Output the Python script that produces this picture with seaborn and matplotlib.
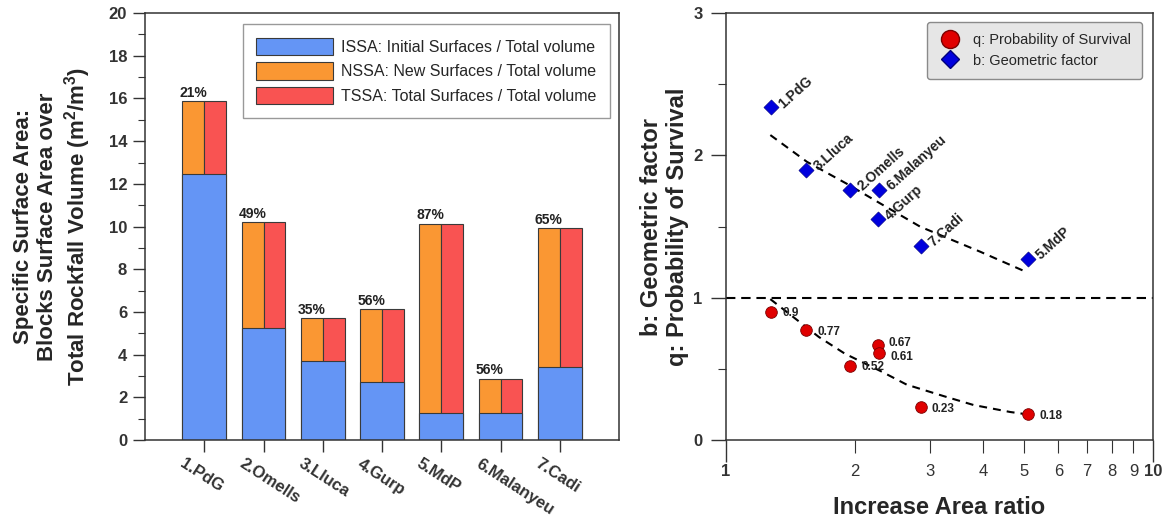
import numpy as np
import pandas as pd
import matplotlib
matplotlib.use("Agg")
import matplotlib.pyplot as plt
import seaborn as sns
from matplotlib.patches import Patch
from matplotlib.lines import Line2D
from matplotlib.transforms import ScaledTranslation

# --- data ------------------------------------------------------------------
sites = ['1.PdG', '2.Omells', '3.Lluca', '4.Gurp', '5.MdP', '6.Malanyeu', '7.Cadi']
issa = [12.47, 5.23, 3.70, 2.70, 1.28, 1.26, 3.44]        # initial surfaces / volume
tssa = [15.88, 10.20, 5.70, 6.14, 10.13, 2.88, 9.92]      # total surfaces / volume
new_pct = ['21%', '49%', '35%', '56%', '87%', '56%', '65%']

# right panel, same site order as above
area_ratio = [1.275, 1.955, 1.54, 2.265, 5.10, 2.286, 2.86]
b_factor = [2.34, 1.76, 1.90, 1.55, 1.275, 1.76, 1.365]
q_surv = [0.90, 0.52, 0.77, 0.67, 0.18, 0.61, 0.23]
q_text = ['0.9', '0.52', '0.77', '0.67', '0.18', '0.61', '0.23']

# dashed trend curves
b_trend_x = [1.27, 1.547, 1.92, 2.296, 2.85, 3.94, 5.03]
b_trend_y = [2.143, 1.955, 1.80, 1.663, 1.499, 1.323, 1.183]
q_trend_x = [1.27, 1.65, 1.90, 2.30, 2.65, 3.23, 3.80, 4.63, 5.0]
q_trend_y = [0.99, 0.724, 0.606, 0.485, 0.389, 0.309, 0.246, 0.197, 0.183]

c_blue, c_orange, c_red = '#6495F5', '#FA9733', '#F95352'
edge = '#3a3a3a'

sns.set_style('ticks')
plt.rcParams['font.family'] = ['Liberation Sans', 'DejaVu Sans']
plt.rcParams['mathtext.fontset'] = 'custom'
plt.rcParams['mathtext.rm'] = 'Liberation Sans'
plt.rcParams['mathtext.bf'] = 'Liberation Sans:bold'
plt.rcParams['axes.edgecolor'] = '#333333'
plt.rcParams['xtick.color'] = '#333333'
plt.rcParams['ytick.color'] = '#333333'

fig = plt.figure(figsize=(11.65, 5.2), dpi=100)
ax1 = fig.add_axes([0.1245, 0.1538, 0.4069, 0.821])
ax2 = fig.add_axes([0.6232, 0.1538, 0.3665, 0.821])

# --- left: stacked / paired bars -------------------------------------------
df_tot = pd.DataFrame({'site': sites * 2, 'value': tssa + tssa,
                       'series': ['left'] * 7 + ['right'] * 7})
df_issa = pd.DataFrame({'site': sites, 'value': issa, 'series': ['left'] * 7})
pal = {'left': c_orange, 'right': c_red}
sns.barplot(data=df_tot, x='site', y='value', hue='series', hue_order=['left', 'right'],
            palette=pal, width=0.74, gap=0, saturation=1, errorbar=None,
            edgecolor=edge, linewidth=0.8, legend=False, ax=ax1)
top_bars = ax1.containers[0]
sns.barplot(data=df_issa, x='site', y='value', hue='series', hue_order=['left', 'right'],
            palette={'left': c_blue, 'right': c_blue}, width=0.74, gap=0, saturation=1,
            errorbar=None, edgecolor=edge, linewidth=0.8, legend=False, ax=ax1)
ax1.bar_label(top_bars, labels=new_pct, padding=1, fontsize=10, fontweight='bold', color='#222222')

ax1.set_xlim(-1, 7)
ax1.set_ylim(0, 20)
ax1.set_yticks(np.arange(0, 21, 2))
ax1.set_yticks(np.arange(1, 20, 2), minor=True)
ax1.tick_params(axis='y', which='major', direction='out', length=8.4, width=1, pad=4.5,
                labelsize=12)
ax1.tick_params(axis='y', which='minor', direction='out', length=4.8, width=0.8)
ax1.tick_params(axis='x', direction='out', length=8.6, width=1, pad=3, labelsize=12)
for lbl in ax1.get_yticklabels():
    lbl.set_fontweight('bold')
ax1.set_xlabel('')
ax1.set_ylabel('Specific Surface Area:\nBlocks Surface Area over\n'
               r'Total Rockfall Volume (m$^\mathbf{2}$/m$^\mathbf{3}$)',
               fontsize=16, fontweight='bold', labelpad=11, linespacing=1.2)
for lbl in ax1.get_xticklabels():
    lbl.set_rotation(-33)
    lbl.set_ha('left')
    lbl.set_va('top')
    lbl.set_rotation_mode('anchor')
    lbl.set_fontweight('bold')
    lbl.set_transform(lbl.get_transform() + ScaledTranslation(-0.19, 0, fig.dpi_scale_trans))
for sp in ax1.spines.values():
    sp.set_linewidth(1.1)

handles = [Patch(facecolor=c_blue, edgecolor=edge, linewidth=0.8),
           Patch(facecolor=c_orange, edgecolor=edge, linewidth=0.8),
           Patch(facecolor=c_red, edgecolor=edge, linewidth=0.8)]
leg1 = ax1.legend(handles, ['ISSA: Initial Surfaces / Total volume',
                            'NSSA: New Surfaces / Total volume',
                            'TSSA: Total Surfaces / Total volume'],
                  loc='upper right', bbox_to_anchor=(0.981, 0.974), borderaxespad=0,
                  fontsize=11.5, handlelength=4.8, handleheight=1.3, labelspacing=0.45,
                  handletextpad=0.5, borderpad=0.85, fancybox=False, framealpha=1,
                  edgecolor='#999999')
leg1.get_frame().set_linewidth(1.0)

# --- right: scatter on log x ------------------------------------------------
ax2.set_xscale('log')
ax2.set_xlim(1, 10)
ax2.set_ylim(0, 3)
ax2.axhline(1, color='black', lw=1.5, ls=(0, (4.5, 2.8)))
sns.lineplot(x=b_trend_x, y=b_trend_y, color='black', lw=1.5, ax=ax2)
sns.lineplot(x=q_trend_x, y=q_trend_y, color='black', lw=1.5, ax=ax2)
for ln in ax2.get_lines()[-2:]:
    ln.set_linestyle((0, (3.8, 2.9)))
sns.scatterplot(x=area_ratio, y=b_factor, marker='D', color='#0000DD', s=60,
                edgecolor='#00007a', linewidth=0.4, zorder=3, ax=ax2)
sns.scatterplot(x=area_ratio, y=q_surv, marker='o', color='#E00000', s=70,
                edgecolor='#7a0000', linewidth=0.6, zorder=3, ax=ax2)

for x, y, s in zip(area_ratio, b_factor, sites):
    ax2.annotate(s, (x, y), xytext=(7, 1), textcoords='offset points', rotation=42,
                 ha='left', va='center', rotation_mode='anchor', fontsize=10,
                 fontweight='bold', color='#222222')
for i, (x, y, s) in enumerate(zip(area_ratio, q_surv, q_text)):
    # push apart labels of points that almost sit on top of each other
    dy = 0
    for j, (x2, y2) in enumerate(zip(area_ratio, q_surv)):
        if j != i and abs(np.log(x / x2)) < 0.03 and abs(y - y2) < 0.1:
            dy = 2 if y > y2 else -2
    ax2.annotate(s, (x, y), xytext=(8, -1 + dy), textcoords='offset points', ha='left',
                 va='center', fontsize=8.5, fontweight='bold', color='#222222')

ax2.set_yticks([0, 1, 2, 3])
ax2.set_yticks([0.5, 1.5, 2.5], minor=True)
ax2.set_xticks([1, 10], labels=['1', '10'])
ax2.set_xticks(range(2, 10), labels=[str(v) for v in range(2, 10)], minor=True)
ax2.tick_params(axis='y', which='major', direction='out', length=11, width=1, pad=6,
                labelsize=12)
ax2.tick_params(axis='y', which='minor', direction='out', length=5.5, width=0.8)
ax2.tick_params(axis='x', which='major', direction='out', length=16, width=1, pad=1.5,
                labelsize=12)
ax2.tick_params(axis='x', which='minor', direction='out', length=9, width=0.8, pad=8.5,
                labelsize=12)
for lbl in ax2.get_yticklabels() + ax2.get_xticklabels():
    lbl.set_fontweight('bold')
for sp in ax2.spines.values():
    sp.set_linewidth(1.1)
ax2.set_xlabel('Increase Area ratio', fontsize=17, fontweight='bold', labelpad=12)
ax2.set_ylabel('b: Geometric factor\nq: Probability of Survival', fontsize=17,
               fontweight='bold', labelpad=3, linespacing=1.15)

h2 = [Line2D([], [], marker='o', ls='none', color='#E00000', markeredgecolor='#7a0000',
             markersize=13),
      Line2D([], [], marker='D', ls='none', color='#0000DD', markeredgecolor='#00007a',
             markersize=9)]
leg2 = ax2.legend(h2, ['q: Probability of Survival', 'b: Geometric factor'],
                  loc='upper right', bbox_to_anchor=(0.974, 0.979), borderaxespad=0,
                  fontsize=10.5, handlelength=1.6, handletextpad=0.8, labelspacing=0.45,
                  borderpad=0.75, fancybox=True, framealpha=1, facecolor='#E6E6E6',
                  edgecolor='#8a8a8a')

fig.savefig('out.png', dpi=100)
